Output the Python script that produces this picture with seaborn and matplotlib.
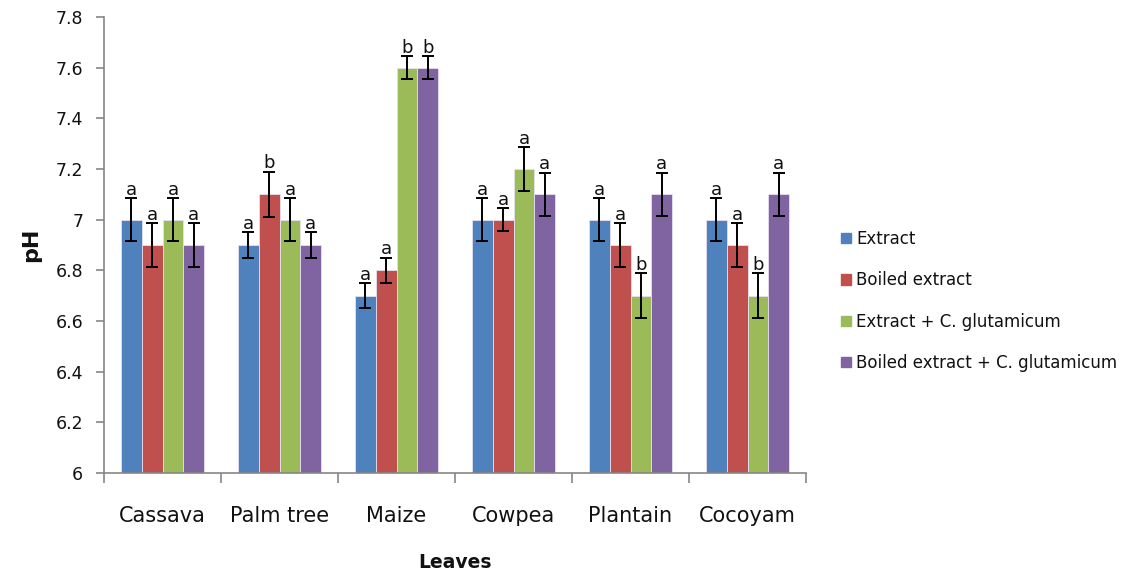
import matplotlib
matplotlib.use("Agg")
import matplotlib.pyplot as plt
import seaborn as sns
import pandas as pd
import numpy as np
from matplotlib.ticker import FixedLocator, FuncFormatter

# ---- data ----
categories = ["Cassava", "Palm tree", "Maize", "Cowpea", "Plantain", "Cocoyam"]
series_names = ["Extract", "Boiled extract", "Extract + C. glutamicum",
                "Boiled extract + C. glutamicum"]
extract = [7.0, 6.9, 6.7, 7.0, 7.0, 7.0]
boiled_extract = [6.9, 7.1, 6.8, 7.0, 6.9, 6.9]
extract_cg = [7.0, 7.0, 7.6, 7.2, 6.7, 6.7]
boiled_extract_cg = [6.9, 6.9, 7.6, 7.1, 7.1, 7.1]

err_extract = [0.085, 0.05, 0.05, 0.085, 0.085, 0.085]
err_boiled_extract = [0.085, 0.09, 0.05, 0.045, 0.085, 0.085]
err_extract_cg = [0.085, 0.085, 0.045, 0.085, 0.09, 0.09]
err_boiled_extract_cg = [0.085, 0.05, 0.045, 0.085, 0.085, 0.085]

let_extract = ["a", "a", "a", "a", "a", "a"]
let_boiled_extract = ["a", "b", "a", "a", "a", "a"]
let_extract_cg = ["a", "a", "b", "a", "b", "b"]
let_boiled_extract_cg = ["a", "a", "b", "a", "a", "a"]

y_ticks = [6, 6.2, 6.4, 6.6, 6.8, 7, 7.2, 7.4, 7.6, 7.8]

colors = ["#4F81BD", "#C0504D", "#9BBB59", "#8064A2"]

values = [extract, boiled_extract, extract_cg, boiled_extract_cg]
errors = [err_extract, err_boiled_extract, err_extract_cg, err_boiled_extract_cg]
letters = [let_extract, let_boiled_extract, let_extract_cg, let_boiled_extract_cg]

rows = []
for name, vals in zip(series_names, values):
    for c, v in zip(categories, vals):
        rows.append({"Leaves": c, "Treatment": name, "pH": v})
df = pd.DataFrame(rows)

# ---- plot ----
sns.set_style("white")
FONT = ["DejaVu Sans"]
plt.rcParams["font.family"] = FONT
text_color = "#111111"

fig = plt.figure(figsize=(11.32, 5.76), dpi=100)
ax = fig.add_axes([104 / 1132, 1 - 473 / 576, (806 - 104) / 1132, (473 - 17) / 576])

sns.barplot(data=df, x="Leaves", y="pH", hue="Treatment", order=categories,
            hue_order=series_names, palette=colors, width=0.715, ax=ax,
            errorbar=None, saturation=1, edgecolor="#E6E0F0", linewidth=0.6)

bar_containers = list(ax.containers)
for i, cont in enumerate(bar_containers):
    for j, bar in enumerate(cont.patches):
        xc = bar.get_x() + bar.get_width() / 2
        v = values[i][j]
        e = errors[i][j]
        ax.errorbar(xc, v, yerr=e, fmt="none", ecolor="black", elinewidth=1.4,
                    capsize=4, capthick=1.4, zorder=5)
        ax.annotate(letters[i][j], (xc, v + e), xytext=(0, -0.5),
                    textcoords="offset points", ha="center", va="bottom",
                    fontsize=13, color=text_color)

ax.set_ylim(6, 7.8)
ax.set_xlim(-0.5, len(categories) - 0.5)
ax.yaxis.set_major_locator(FixedLocator(y_ticks))
ax.yaxis.set_major_formatter(FuncFormatter(lambda v, p: f"{v:g}"))

ax.set_xticks(range(len(categories)))
ax.set_xticklabels(categories, fontsize=15, color=text_color)
ax.xaxis.set_minor_locator(FixedLocator(np.arange(-0.5, len(categories), 1.0)))
ax.tick_params(axis="x", which="major", length=0, pad=24)
ax.tick_params(axis="x", which="minor", length=7, width=1.2, color="#868686",
               direction="out", bottom=True)
ax.tick_params(axis="y", which="major", length=6, width=1.2, color="#868686",
               direction="out", left=True, labelsize=12.5, labelcolor=text_color, pad=9)

for s in ["top", "right"]:
    ax.spines[s].set_visible(False)
for s in ["left", "bottom"]:
    ax.spines[s].set_color("#868686")
    ax.spines[s].set_linewidth(1.2)

ax.set_xlabel("Leaves", fontsize=13.5, fontweight="bold", color=text_color)
ax.set_ylabel("pH", fontsize=16, fontweight="bold", color=text_color)
ax.xaxis.set_label_coords((455 - 104) / 702, (473 - 553) / 456)
ax.yaxis.set_label_coords((41 - 104) / 702, 0.5)

leg = ax.get_legend()
if leg is not None:
    leg.remove()
handles = [plt.Rectangle((0, 0), 1, 1, color=c) for c in colors]
fig.legend(handles, series_names, loc="center left",
           bbox_to_anchor=(841 / 1132, 1 - 301 / 576), frameon=False,
           fontsize=12, handlelength=0.6, handleheight=0.6, handletextpad=0.3,
           labelspacing=1.4, borderpad=0, borderaxespad=0, labelcolor=text_color)

fig.savefig("out.png", dpi=100)
